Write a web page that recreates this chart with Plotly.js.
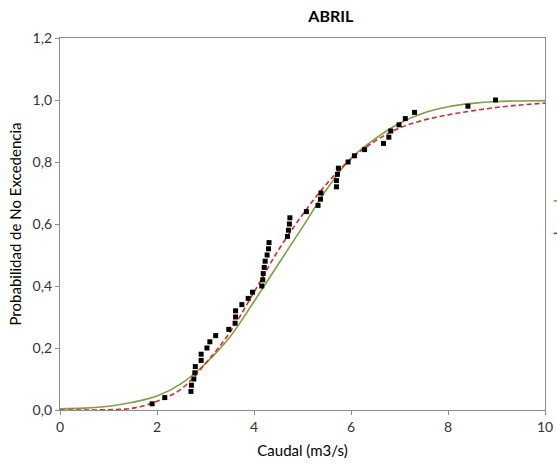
<!DOCTYPE html>
<html>
<head>
<meta charset="utf-8">
<script src="https://cdn.plot.ly/plotly-3.0.1.min.js"></script>
<style>html,body{margin:0;padding:0;background:#fff;}#chart{width:557px;height:473px;}</style>
</head>
<body>
<div id="chart"></div>
<script>
// Observed data (empirical non-exceedance probability)
var obsCaudal = [1.90, 2.16, 2.70, 2.71, 2.76, 2.78, 2.79, 2.91, 2.91, 3.03,
                 3.09, 3.21, 3.48, 3.61, 3.62, 3.62, 3.75, 3.88, 3.97, 4.16,
                 4.18, 4.19, 4.21, 4.23, 4.27, 4.30, 4.31, 4.69, 4.71, 4.73,
                 4.74, 5.08, 5.32, 5.37, 5.38, 5.70, 5.70, 5.72, 5.74, 5.94,
                 6.07, 6.28, 6.67, 6.78, 6.82, 6.99, 7.12, 7.31, 8.41, 8.98];
var obsProb = [0.02, 0.04, 0.06, 0.08, 0.10, 0.12, 0.14, 0.16, 0.18, 0.20,
               0.22, 0.24, 0.26, 0.28, 0.30, 0.32, 0.34, 0.36, 0.38, 0.40,
               0.42, 0.44, 0.46, 0.48, 0.50, 0.52, 0.54, 0.56, 0.58, 0.60,
               0.62, 0.64, 0.66, 0.68, 0.70, 0.72, 0.74, 0.76, 0.78, 0.80,
               0.82, 0.84, 0.86, 0.88, 0.90, 0.92, 0.94, 0.96, 0.98, 1.00];

// Fitted curves
var curveCaudal = [0, 0.5, 1, 1.5, 2, 2.5, 3, 3.5, 4, 4.5, 5, 5.5, 6, 6.5, 7, 7.5, 8, 8.5, 9, 9.5, 10];
var curveGreen = [0.004, 0.006, 0.012, 0.025, 0.045, 0.085, 0.150, 0.235, 0.350, 0.470, 0.590,
                  0.712, 0.812, 0.875, 0.925, 0.958, 0.978, 0.989, 0.995, 0.997, 0.998];
var curveRed = [0.000, 0.000, 0.001, 0.006, 0.028, 0.068, 0.150, 0.250, 0.380, 0.515, 0.630,
                0.730, 0.810, 0.868, 0.910, 0.935, 0.952, 0.965, 0.976, 0.984, 0.990];

var xTicks = [0, 2, 4, 6, 8, 10];
var yTicks = [0, 0.2, 0.4, 0.6, 0.8, 1.0, 1.2];

var FONT = 'Lato, "Open Sans", "DejaVu Sans", sans-serif';

var traces = [
  {x: curveCaudal, y: curveGreen, mode: 'lines', type: 'scatter',
   line: {color: '#7f9f3f', width: 1.6, shape: 'spline'}, hoverinfo: 'skip'},
  {x: curveCaudal, y: curveRed, mode: 'lines', type: 'scatter',
   line: {color: '#e0282a', width: 1.6, dash: '5px,3px', shape: 'spline'}, hoverinfo: 'skip'},
  {x: obsCaudal, y: obsProb, mode: 'markers', type: 'scatter',
   marker: {symbol: 'square', size: 5, color: '#000000'}}
];

var axisCommon = {
  showgrid: false, zeroline: false, showline: true, mirror: true,
  linecolor: '#8c8c8c', linewidth: 1.2,
  ticks: 'outside', ticklen: 4, tickcolor: '#8c8c8c',
  tickfont: {family: FONT, size: 14, color: '#333333'}
};

var layout = {
  width: 557, height: 473,
  margin: {l: 60, r: 12, t: 38, b: 63},
  paper_bgcolor: '#ffffff', plot_bgcolor: '#ffffff',
  showlegend: false,
  separators: ',.',
  title: {text: '<b>ABRIL</b>', font: {family: FONT, size: 16, color: '#000000'},
          xref: 'container', x: 0.594, xanchor: 'center', yref: 'container', y: 0.966, yanchor: 'middle'},
  xaxis: Object.assign({}, axisCommon, {
    range: [0, 10], tickvals: xTicks, ticktext: xTicks.map(String),
    title: {text: 'Caudal (m3/s)', font: {family: FONT, size: 15, color: '#000000'}, standoff: 11}
  }),
  yaxis: Object.assign({}, axisCommon, {
    range: [0, 1.2], tickvals: yTicks, tickformat: '.1f',
    title: {text: 'Probabilidad de No Excedencia', font: {family: FONT, size: 15, color: '#000000'}, standoff: 7}
  }),
  shapes: [
    {type: 'line', xref: 'paper', yref: 'paper', x0: 1.018, x1: 1.03, y0: 0.562, y1: 0.562,
     line: {color: '#7f9f3f', width: 1.6}},
    {type: 'line', xref: 'paper', yref: 'paper', x0: 1.018, x1: 1.03, y0: 0.475, y1: 0.475,
     line: {color: '#e0282a', width: 1.6}}
  ]
};

Plotly.newPlot('chart', traces, layout, {staticPlot: true, displayModeBar: false});
</script>
</body>
</html>
